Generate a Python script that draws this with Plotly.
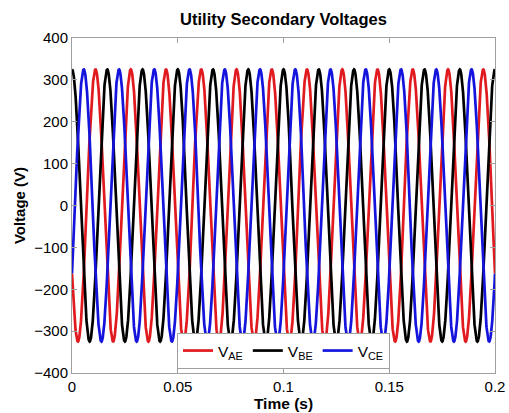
import numpy as np
import plotly.graph_objects as go

# Values
series_names = ["V<sub>AE</sub>", "V<sub>BE</sub>", "V<sub>CE</sub>"]
series_colors = ["#e01a1e", "#000000", "#1414dc"]
amplitudes = [325, 325, 325]          # peak voltage (V)
phase_deg = [120, 0, -120]            # phase at t=0 (cosine reference)
frequency_hz = 60
t_start, t_end = 0.0, 0.2
x_ticks = [0, 0.05, 0.1, 0.15, 0.2]
x_tick_text = ["0", "0.05", "0.1", "0.15", "0.2"]
y_ticks = [-400, -300, -200, -100, 0, 100, 200, 300, 400]

t = np.linspace(t_start, t_end, 4001)

fig = go.Figure()
for name, color, amp, ph in zip(series_names, series_colors, amplitudes, phase_deg):
    v = amp * np.cos(2 * np.pi * frequency_hz * t + np.deg2rad(ph))
    fig.add_trace(go.Scatter(x=t, y=v, mode="lines", name=name,
                             line=dict(color=color, width=2.7)))

fig.update_layout(
    width=509, height=413,
    margin=dict(l=72, r=14, t=38, b=40, autoexpand=False),
    paper_bgcolor="white", plot_bgcolor="white",
    font=dict(family="Arial, Liberation Sans, sans-serif", size=15, color="black"),
    title=dict(text="<b>Utility Secondary Voltages</b>", x=0.557, xanchor="center",
               y=1 - 19 / 413, yanchor="middle", font=dict(size=16.5)),
    showlegend=True,
    legend=dict(orientation="h", x=0.5, xanchor="center", y=0.012, yanchor="bottom",
                bgcolor="white", bordercolor="#a0a0a0", borderwidth=1,
                font=dict(size=15.5), itemwidth=30, tracegroupgap=0),
)
fig.update_xaxes(range=[t_start, t_end], tickvals=x_ticks, ticktext=x_tick_text,
                 automargin=False,
                 showgrid=False, zeroline=False, showline=True, linecolor="#a0a0a0",
                 linewidth=1, mirror="ticks", ticks="inside", ticklen=5,
                 tickcolor="#a0a0a0", tickfont=dict(size=15),
                 title=dict(text="<b>Time (s)</b>", font=dict(size=15.5), standoff=0))
fig.update_yaxes(range=[-400, 400], tickvals=y_ticks,
                 automargin=False,
                 showgrid=False, zeroline=False, showline=True, linecolor="#a0a0a0",
                 linewidth=1, mirror="ticks", ticks="inside", ticklen=5,
                 tickcolor="#a0a0a0", tickfont=dict(size=15),
                 title=dict(text="<b>Voltage (V)</b>", font=dict(size=15), standoff=4))

fig.write_html("out.html", config={"displayModeBar": False},
               post_script="document.body.style.margin='0';")
